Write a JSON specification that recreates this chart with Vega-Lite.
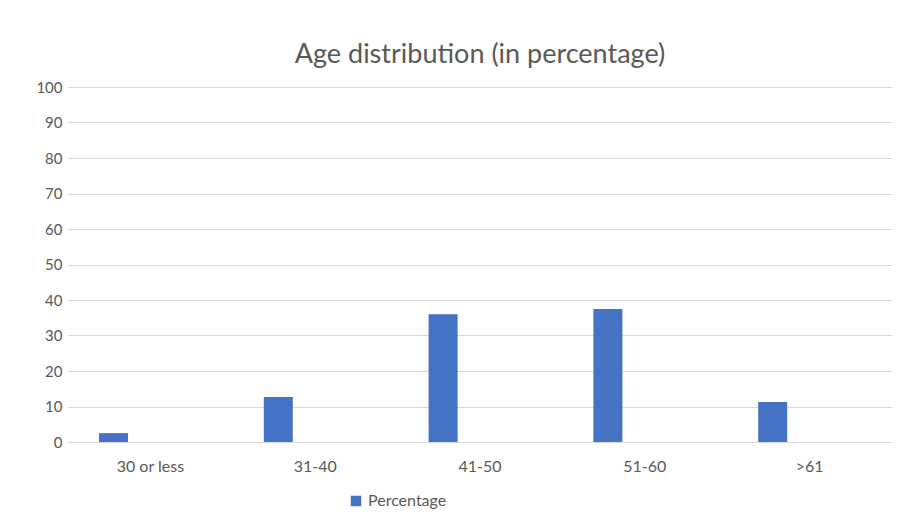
{
  "$schema": "https://vega.github.io/schema/vega-lite/v6.json",
  "width": 824,
  "height": 355,
  "autosize": {"type": "none"},
  "padding": {"left": 68, "top": 87, "right": 11, "bottom": 90},
  "background": "white",
  "title": {
    "text": "Age distribution (in percentage)",
    "font": "Lato",
    "fontSize": 27,
    "fontWeight": "normal",
    "color": "#595959",
    "anchor": "middle",
    "offset": 11
  },
  "data": {
    "values": [
      {"age": "30 or less", "series": "Percentage", "value": 2.5},
      {"age": "31-40", "series": "Percentage", "value": 12.7},
      {"age": "41-50", "series": "Percentage", "value": 36.0},
      {"age": "51-60", "series": "Percentage", "value": 37.5},
      {"age": ">61", "series": "Percentage", "value": 11.3}
    ]
  },
  "mark": {"type": "bar", "color": "#4472c4"},
  "encoding": {
    "x": {
      "field": "age",
      "type": "nominal",
      "sort": null,
      "scale": {"paddingInner": 0, "paddingOuter": 0},
      "axis": {
        "title": null,
        "labelAngle": 0,
        "labelFont": "Lato",
        "labelFontSize": 16,
        "labelColor": "#595959",
        "labelPadding": 16,
        "ticks": false,
        "domainColor": "#d9d9d9",
        "domainWidth": 1,
        "grid": false
      }
    },
    "xOffset": {
      "field": "series",
      "type": "nominal",
      "scale": {"domain": ["Percentage"], "range": [31, 60], "paddingInner": 0, "paddingOuter": 0}
    },
    "y": {
      "field": "value",
      "type": "quantitative",
      "scale": {"domain": [0, 100], "nice": false},
      "axis": {
        "title": null,
        "values": [0, 10, 20, 30, 40, 50, 60, 70, 80, 90, 100],
        "labelFont": "Lato",
        "labelFontSize": 15,
        "labelColor": "#595959",
        "labelPadding": 6,
        "ticks": false,
        "domain": false,
        "grid": true,
        "gridColor": "#d9d9d9",
        "gridWidth": 1
      }
    },
    "color": {
      "field": "series",
      "type": "nominal",
      "scale": {"domain": ["Percentage"], "range": ["#4472c4"]},
      "legend": {
        "title": null,
        "orient": "none",
        "legendX": 280,
        "legendY": 406,
        "symbolType": "square",
        "symbolSize": 110,
        "symbolStrokeWidth": 0,
        "labelFont": "Lato",
        "labelFontSize": 16,
        "labelColor": "#595959"
      }
    }
  },
  "config": {
    "view": {"stroke": null}
  }
}
